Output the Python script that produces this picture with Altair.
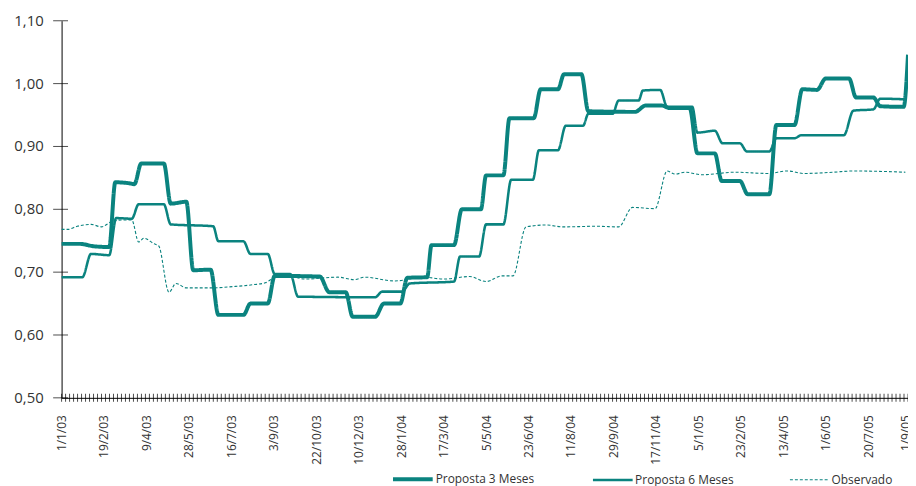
import altair as alt
import pandas as pd
import numpy as np

TEAL = "#0A837F"
FONT = "Open Sans"

series_names = ["Proposta 3 Meses", "Proposta 6 Meses", "Observado"]

p3_dates = ["2003-01-01", "2003-01-22", "2003-02-08", "2003-02-25", "2003-03-04", "2003-03-22", "2003-03-26",
            "2003-04-03", "2003-04-29", "2003-05-07", "2003-05-25", "2003-06-02", "2003-06-22", "2003-07-01",
            "2003-07-30", "2003-08-07", "2003-08-27", "2003-09-04", "2003-10-26", "2003-11-06", "2003-11-25",
            "2003-12-03", "2003-12-29", "2004-01-08", "2004-01-27", "2004-02-04", "2004-02-27", "2004-03-03",
            "2004-03-29", "2004-04-07", "2004-04-29", "2004-05-05", "2004-05-25", "2004-06-01", "2004-06-29",
            "2004-07-07", "2004-07-27", "2004-08-03", "2004-08-23", "2004-08-31", "2004-10-24", "2004-11-05",
            "2004-11-24", "2004-12-03", "2004-12-26", "2005-01-04", "2005-01-24", "2005-02-01", "2005-02-22",
            "2005-03-03", "2005-03-28", "2005-04-05", "2005-04-26", "2005-05-05", "2005-05-22", "2005-06-01",
            "2005-06-28", "2005-07-06", "2005-07-26", "2005-08-03", "2005-08-30", "2005-09-04"]
p3_values = [0.745, 0.745, 0.741, 0.740, 0.843, 0.841, 0.840,
             0.873, 0.873, 0.809, 0.812, 0.703, 0.704, 0.632,
             0.632, 0.650, 0.650, 0.694, 0.693, 0.668, 0.668,
             0.629, 0.629, 0.650, 0.650, 0.691, 0.692, 0.743,
             0.743, 0.800, 0.800, 0.854, 0.854, 0.945, 0.945,
             0.991, 0.991, 1.015, 1.015, 0.956, 0.955, 0.965,
             0.965, 0.961, 0.961, 0.889, 0.889, 0.845, 0.845,
             0.824, 0.824, 0.934, 0.934, 0.991, 0.990, 1.008,
             1.008, 0.978, 0.978, 0.964, 0.963, 1.046]

p6_dates = ["2003-01-01", "2003-01-25", "2003-02-04", "2003-02-25", "2003-03-05", "2003-03-23", "2003-03-31",
            "2003-04-29", "2003-05-07", "2003-06-25", "2003-07-01", "2003-07-30", "2003-08-07", "2003-08-27",
            "2003-09-04", "2003-09-22", "2003-10-01", "2003-12-29", "2004-01-06", "2004-01-29", "2004-02-07",
            "2004-03-29", "2004-04-05", "2004-04-27", "2004-05-05", "2004-05-25", "2004-06-03", "2004-06-28",
            "2004-07-05", "2004-07-27", "2004-08-05", "2004-08-25", "2004-08-31", "2004-09-28", "2004-10-05",
            "2004-10-28", "2004-11-02", "2004-11-22", "2004-11-30", "2004-12-29", "2005-01-04", "2005-01-24",
            "2005-02-02", "2005-02-22", "2005-03-02", "2005-03-28", "2005-04-05", "2005-04-26", "2005-05-04",
            "2005-06-22", "2005-07-03", "2005-07-26", "2005-08-03", "2005-09-01"]
p6_values = [0.692, 0.692, 0.729, 0.727, 0.786, 0.785, 0.808,
             0.808, 0.776, 0.773, 0.749, 0.749, 0.729, 0.729,
             0.697, 0.697, 0.661, 0.660, 0.669, 0.669, 0.682,
             0.685, 0.725, 0.725, 0.776, 0.776, 0.847, 0.847,
             0.894, 0.894, 0.933, 0.933, 0.952, 0.952, 0.973,
             0.973, 0.989, 0.990, 0.963, 0.963, 0.922, 0.925,
             0.905, 0.905, 0.892, 0.892, 0.913, 0.913, 0.918,
             0.918, 0.957, 0.959, 0.976, 0.975]

obs_dates = ["2003-01-01", "2003-01-08", "2003-01-19", "2003-02-04", "2003-02-16", "2003-02-27", "2003-03-11",
             "2003-03-23", "2003-03-31", "2003-04-06", "2003-04-18", "2003-04-23", "2003-05-05", "2003-05-13",
             "2003-05-25", "2003-06-25", "2003-07-18", "2003-08-10", "2003-08-24", "2003-09-08", "2003-09-19",
             "2003-10-09", "2003-11-16", "2003-12-05", "2003-12-17", "2004-01-20", "2004-02-23", "2004-03-17",
             "2004-04-16", "2004-05-05", "2004-05-23", "2004-06-05", "2004-06-20", "2004-07-13", "2004-08-02",
             "2004-09-09", "2004-10-05", "2004-10-21", "2004-11-16", "2004-11-30", "2004-12-09", "2004-12-21",
             "2005-01-09", "2005-02-16", "2005-03-26", "2005-04-18", "2005-05-07", "2005-06-10", "2005-07-03",
             "2005-09-01"]
obs_values = [0.768, 0.768, 0.773, 0.776, 0.772, 0.780, 0.783,
              0.783, 0.748, 0.754, 0.745, 0.742, 0.668, 0.682,
              0.675, 0.675, 0.677, 0.680, 0.683, 0.694, 0.694,
              0.689, 0.692, 0.688, 0.692, 0.686, 0.692, 0.689,
              0.693, 0.685, 0.694, 0.694, 0.772, 0.775, 0.772,
              0.773, 0.772, 0.803, 0.801, 0.861, 0.856, 0.859,
              0.855, 0.859, 0.857, 0.861, 0.857, 0.859, 0.861,
              0.859]

x_label_dates = ["2003-01-01", "2003-02-19", "2003-04-09", "2003-05-28", "2003-07-16", "2003-09-03",
                 "2003-10-22", "2003-12-10", "2004-01-28", "2004-03-17", "2004-05-05", "2004-06-23",
                 "2004-08-11", "2004-09-29", "2004-11-17", "2005-01-05", "2005-02-23", "2005-04-13",
                 "2005-06-01", "2005-07-20", "2005-09-01"]
y_tick_values = [0.5, 0.6, 0.7, 0.8, 0.9, 1.0, 1.1]
y_tick_labels = ["0,50", "0,60", "0,70", "0,80", "0,90", "1,00", "1,10"]

# ---- tables ----
frames = []
for name, d, v in [(series_names[1], p6_dates, p6_values),
                   (series_names[2], obs_dates, obs_values),
                   (series_names[0], p3_dates, p3_values)]:
    frames.append(pd.DataFrame({"date": d, "value": v, "serie": name}))
df = pd.concat(frames, ignore_index=True)

# minor tick marks along the date axis (axis decoration)
tick_times = pd.date_range("2003-01-01", "2005-09-04", periods=213)
tick_df = pd.DataFrame({"date": [t.strftime("%Y-%m-%dT%H:%M:%SZ") for t in tick_times]})
ytick_df = pd.DataFrame({"value": y_tick_values, "label": y_tick_labels})


def dt(s):
    y, m, d = (int(p) for p in s.split("-"))
    return alt.DateTime(year=y, month=m, date=d, utc=True)


x_scale = alt.Scale(type="utc", domain=[dt("2003-01-01"), dt("2005-09-04")], nice=False)
y_scale = alt.Scale(domain=[0.5, 1.1], nice=False, zero=False)

x_axis = alt.Axis(values=[dt(s) for s in x_label_dates], format="%-d/%-m/%y", labelAngle=270,
                  labelPadding=17, labelOverlap=False, labelFlush=False)
y_axis = alt.Axis(values=y_tick_values, labels=False)

legend = alt.Legend(orient="none", legendX=332, legendY=440, direction="horizontal", title=None,
                    symbolType="stroke", symbolSize=1600, symbolStrokeColor=TEAL,
                    labelFontSize=12, labelFont=FONT, labelColor="#333333", columnPadding=53,
                    labelOffset=1, padding=0)

lines = alt.Chart(df).mark_line(interpolate="monotone", color=TEAL, strokeCap="butt").encode(
    x=alt.X("date:T", scale=x_scale, axis=x_axis, title=None),
    y=alt.Y("value:Q", scale=y_scale, axis=y_axis, title=None),
    strokeWidth=alt.StrokeWidth("serie:N", scale=alt.Scale(domain=series_names, range=[4, 1.1, 1.4]),
                                legend=legend),
    strokeDash=alt.StrokeDash("serie:N", scale=alt.Scale(domain=series_names,
                                                         range=[[1, 0], [1, 0], [3, 2]]),
                              legend=legend),
)

xticks = alt.Chart(tick_df).mark_tick(color="black", thickness=1, size=8).encode(
    x=alt.X("date:T", scale=x_scale, axis=x_axis, title=None),
    y=alt.value(380),
)
yticks = alt.Chart(ytick_df).mark_tick(color="black", thickness=1, size=15).encode(
    y=alt.Y("value:Q", scale=y_scale, axis=y_axis, title=None),
    x=alt.value(-1),
)
ylabels = alt.Chart(ytick_df).mark_text(align="right", baseline="middle", fontSize=15, font=FONT,
                                        color="#333333").encode(
    y=alt.Y("value:Q", scale=y_scale, axis=y_axis, title=None),
    x=alt.value(-18),
    text="label:N",
)

chart = alt.layer(lines, xticks, yticks, ylabels).properties(
    width=853, height=380,
    background="white",
    autosize=alt.AutoSizeParams(type="none"),
    padding={"left": 54, "top": 11, "right": 0, "bottom": 88},
).configure_axis(
    ticks=False, grid=False, labelFont=FONT, labelColor="#333333",
    domainColor="black", domainWidth=1,
).configure_axisX(labelFontSize=12).configure_view(stroke=None)

chart.save("out.html", embed_options={"renderer": "svg", "actions": False})
